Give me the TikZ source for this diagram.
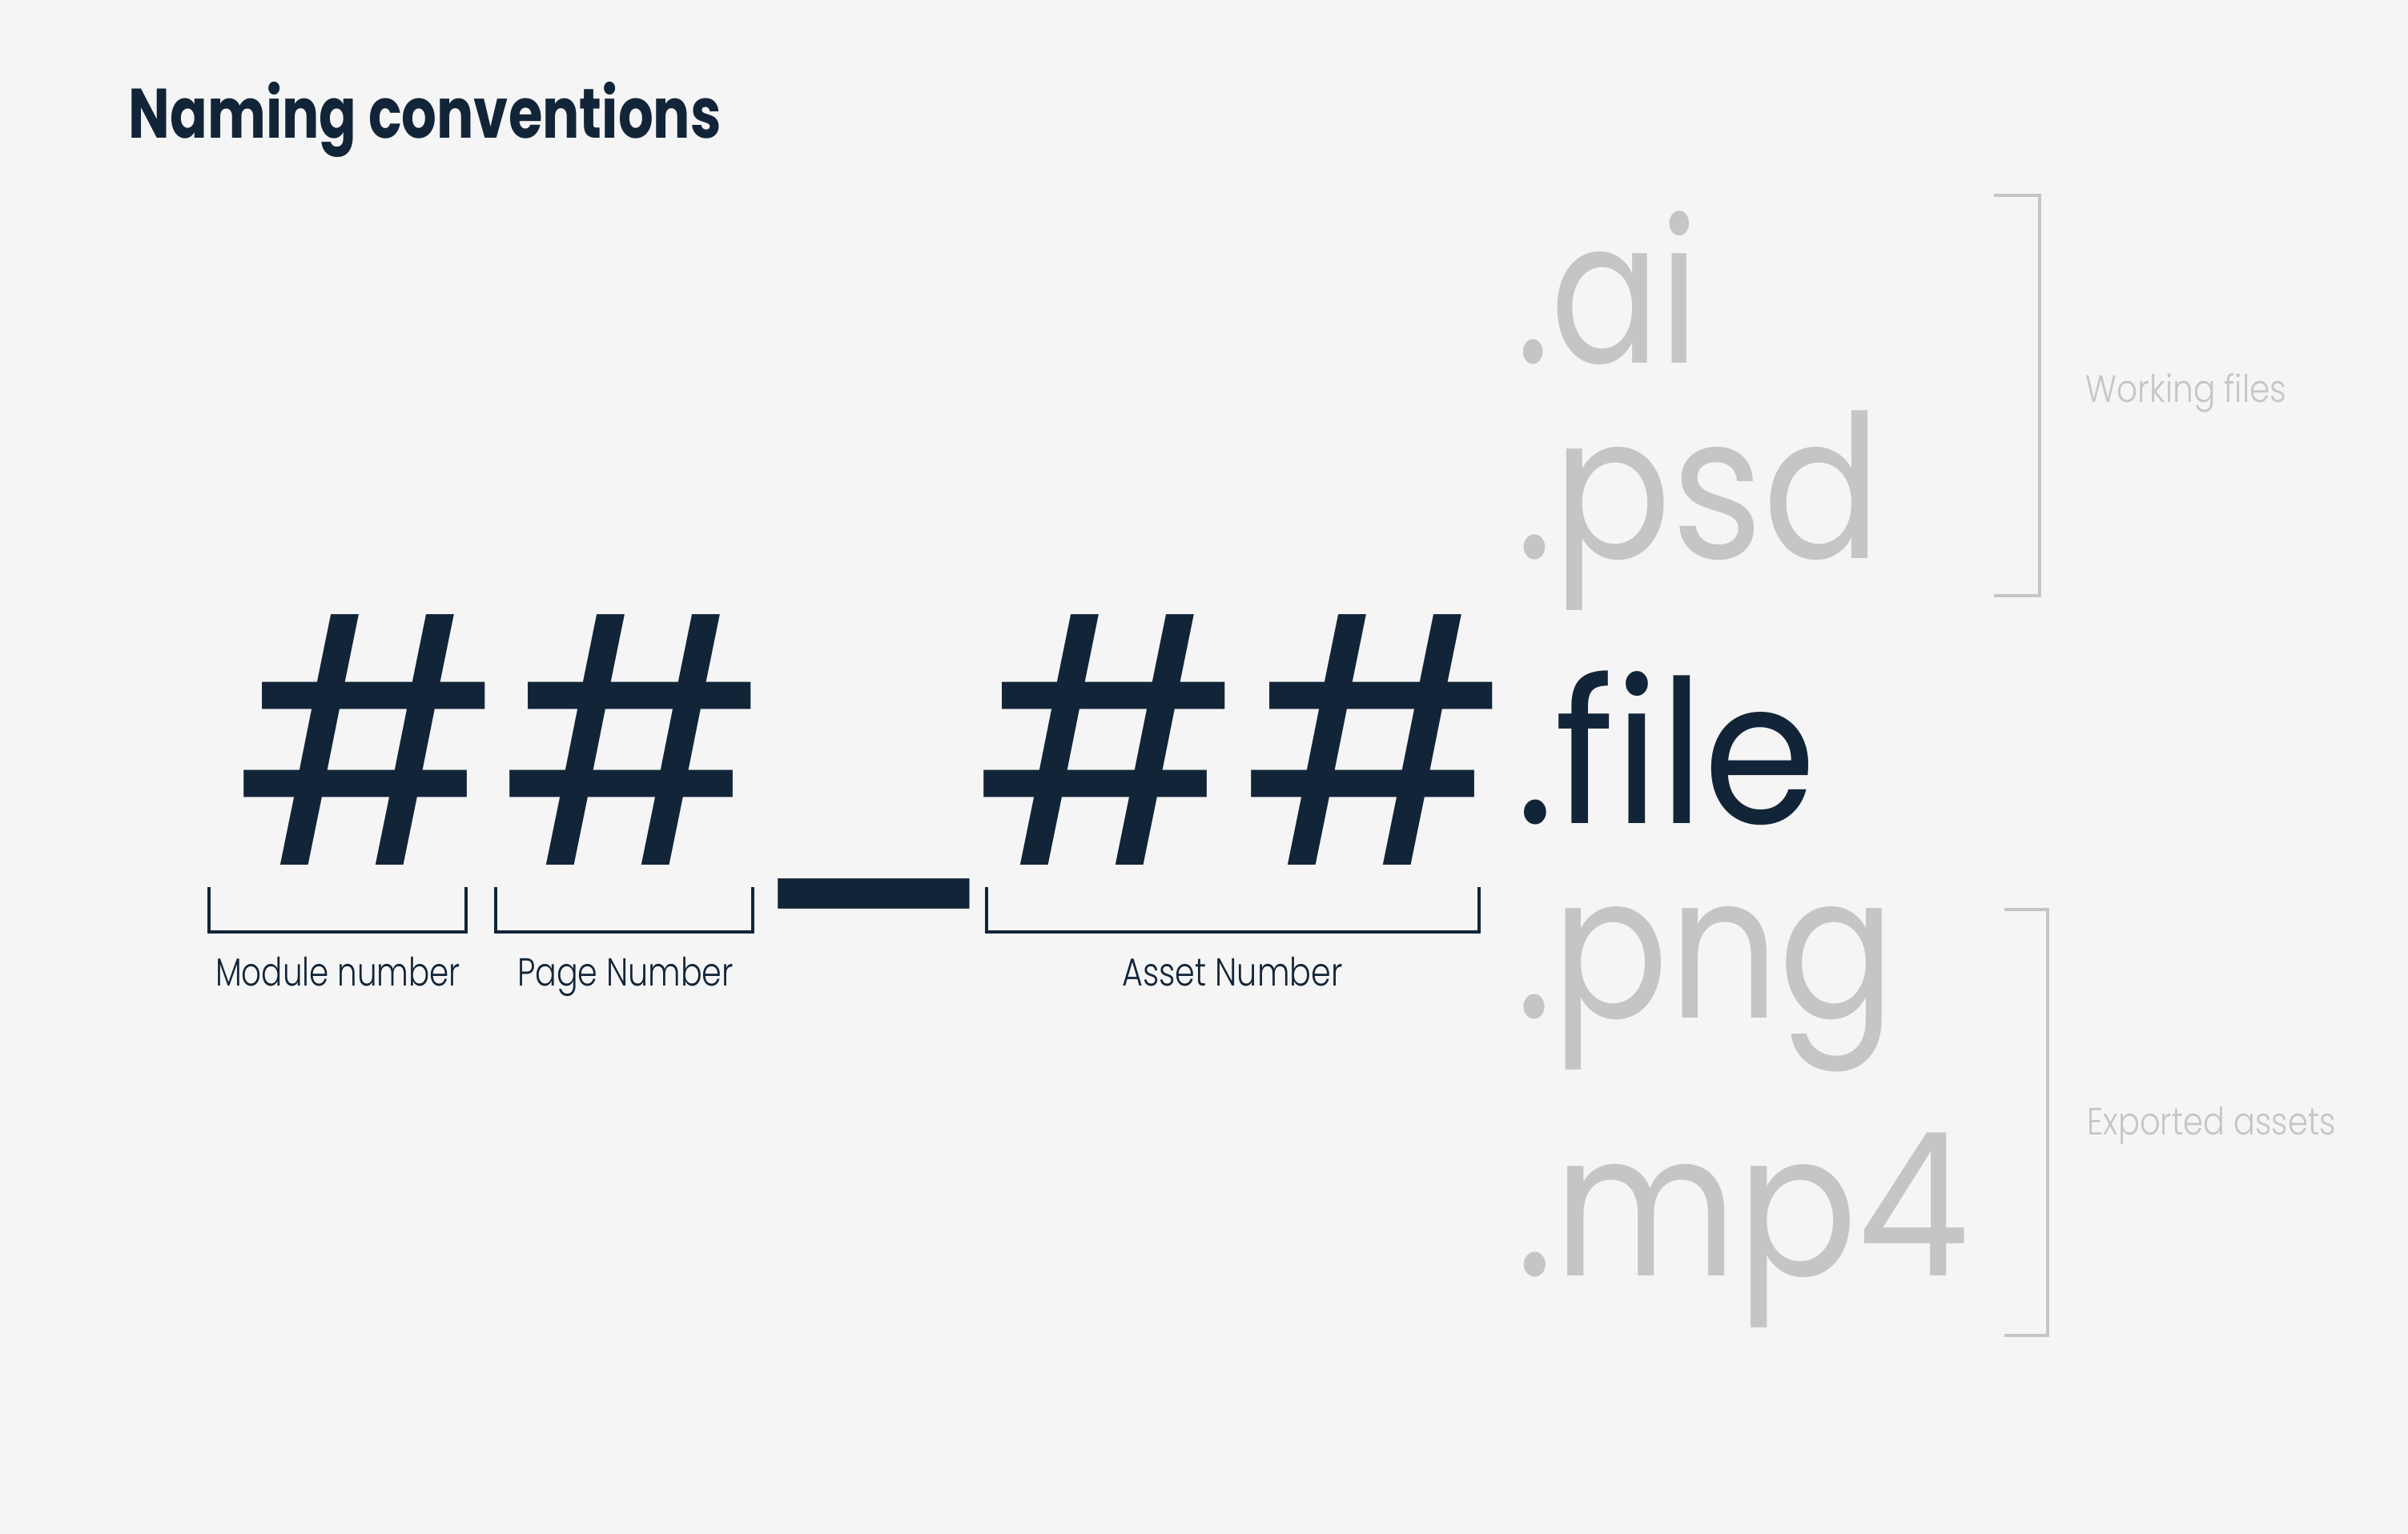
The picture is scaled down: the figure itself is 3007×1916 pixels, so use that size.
\documentclass[tikz,border=0pt]{standalone}
\usepackage{fontspec}
\setmainfont{Poppins}
\newfontfamily\lightfont{Poppins}[UprightFont=* Light]
\usepackage{graphicx}
\usetikzlibrary{positioning}

\definecolor{navy}{HTML}{122538}
\definecolor{ashgray}{HTML}{C5C5C5}
\definecolor{paper}{HTML}{F5F5F5}

% squeeze a text horizontally to a width given in px
\newsavebox\fitbox
\newcommand\fitto[2]{\sbox\fitbox{#2}\pgfmathsetmacro\fitratio{#1*0.28453/\wd\fitbox}\scalebox{\fitratio}[1]{\usebox\fitbox}}

\tikzset{
	ext/.style={anchor=base west, inner sep=0pt, text=ashgray, font=\fontsize{71}{71}\selectfont},
	hashch/.style={inner sep=0pt, text=navy, font=\fontsize{128}{128}\selectfont},
	lbl/.style={anchor=base, inner sep=0pt, text=navy, font=\lightfont\fontsize{13.9}{14}\selectfont},
	side/.style={anchor=base west, inner sep=0pt, text=ashgray, font=\lightfont\fontsize{13.5}{14}\selectfont},
	ubrk/.style={draw=navy, line width=0.4mm},
	sbrk/.style={draw=ashgray, line width=0.4mm}
}

\begin{document}
\begin{tikzpicture}[x=0.1mm, y=-0.1mm]

		% Background
		\fill[paper] (0,0) rectangle (3007,1916);
		\useasboundingbox (0,0) rectangle (3007,1916);

		% Title
		\node[anchor=base west, inner sep=0pt, text=navy, font=\bfseries\fontsize{24.9}{25}\selectfont] (title) at (160,173) {\fitto{740}{Naming conventions}};

		% Hashes and underscore
		\node[hashch] (h1) at (460,924) {\scalebox{0.89}[0.94]{\#}};
		\node[hashch] (h2) at (792,924) {\scalebox{0.89}[0.94]{\#}};
		\node[hashch] (uscore) at (1089,1108) {\_};
		\node[hashch] (h3) at (1384,924) {\scalebox{0.89}[0.94]{\#}};
		\node[hashch] (h4) at (1718,924) {\scalebox{0.89}[0.94]{\#}};

		% Brackets under the hashes
		\draw[ubrk] (261,1108) -- (261,1164) -- (582,1164) -- (582,1108);
		\draw[ubrk] (619,1108) -- (619,1164) -- (940,1164) -- (940,1108);
		\draw[ubrk] (1232,1108) -- (1232,1164) -- (1847,1164) -- (1847,1108);

		\node[lbl] (modlbl) at (422,1232) {\fitto{306}{Module number}};
		\node[lbl] (pagelbl) at (781,1232) {\fitto{270}{Page Number}};
		\node[lbl] (assetlbl) at (1539,1232) {\fitto{275}{Asset Number}};

		% File extensions
		\foreach \nm/\ext/\yb/\w in {ai/.ai/454/228, psd/.psd/698/456, png/.png/1272/473, mp4/.mp4/1593/566}
			\node[ext] (\nm) at (1893,\yb) {\fitto{\w}{\ext}};
		\node[ext, text=navy] (file) at (1893,1029) {\fitto{375}{.file}};

		% Side brackets
		\draw[sbrk] (2490,244) -- (2547,244) -- (2547,744) -- (2490,744);
		\draw[sbrk] (2503,1136) -- (2557,1136) -- (2557,1668) -- (2503,1668);

		\node[side] (worklbl) at (2604,503) {\fitto{251}{Working files}};
		\node[side] (explbl) at (2606,1418) {\fitto{310}{Exported assets}};

\end{tikzpicture}
\end{document}
